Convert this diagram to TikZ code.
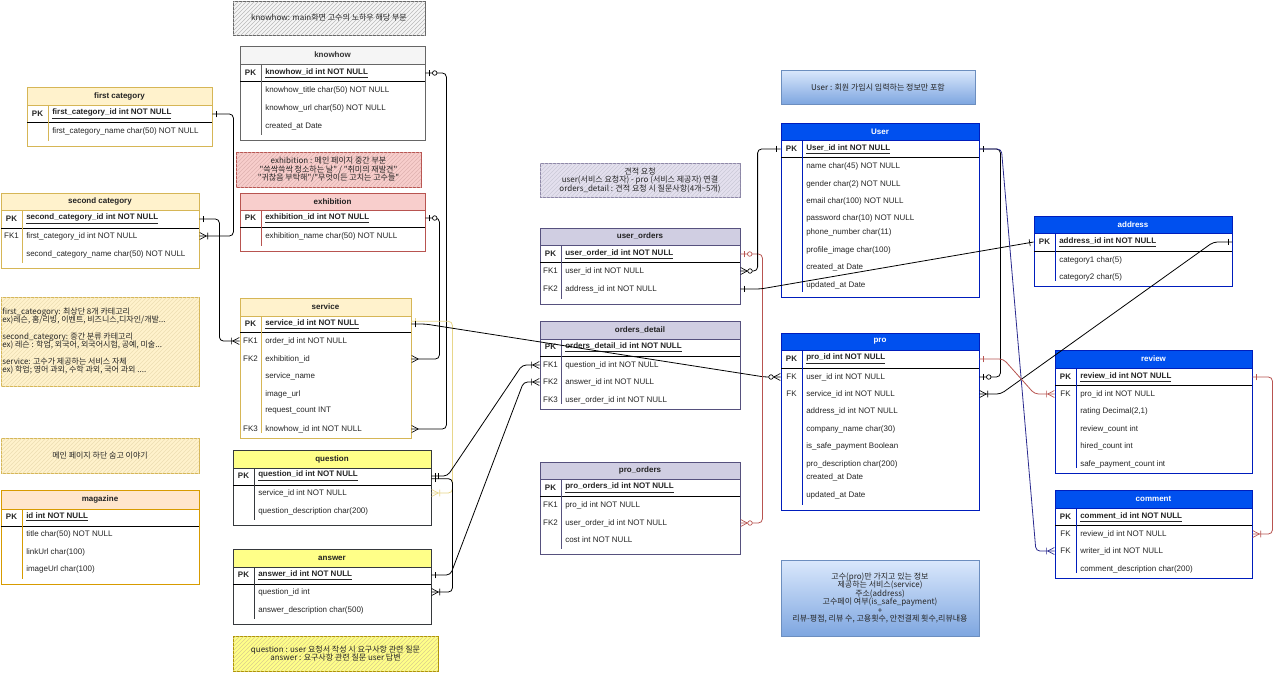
\documentclass[tikz,border=0pt]{standalone}
\usepackage{fontspec}
\setmainfont{Liberation Sans}
\newfontfamily\kr{Noto Sans CJK KR}
\usetikzlibrary{decorations.markings,patterns}

\definecolor{grayF}{HTML}{F5F5F5}\definecolor{grayB}{HTML}{666666}\definecolor{grayT}{HTML}{333333}
\definecolor{yelF}{HTML}{FFF2CC}\definecolor{yelB}{HTML}{D6B656}\definecolor{yelT}{HTML}{222222}
\definecolor{redF}{HTML}{F8CECC}\definecolor{redB}{HTML}{B85450}\definecolor{redT}{HTML}{222222}
\definecolor{oraF}{HTML}{FFE6CC}\definecolor{oraB}{HTML}{D79B00}\definecolor{oraT}{HTML}{222222}
\definecolor{qF}{HTML}{FFFF88}\definecolor{qB}{HTML}{36393D}\definecolor{qT}{HTML}{222222}
\definecolor{qY}{HTML}{B09500}
\definecolor{purF}{HTML}{D0CEE2}\definecolor{purB}{HTML}{56517E}\definecolor{purT}{HTML}{222222}
\definecolor{ordF}{HTML}{E4E0EE}\definecolor{ordB}{HTML}{8C86A6}
\definecolor{bluF}{HTML}{0050EF}\definecolor{bluB}{HTML}{001DBC}\definecolor{bluT}{HTML}{FFFFFF}
\definecolor{bnB}{HTML}{6C8EBF}\definecolor{bnT}{HTML}{DAE8FC}\definecolor{bnD}{HTML}{7EA6E0}
\definecolor{txt}{HTML}{262626}
\definecolor{conred}{HTML}{B85450}
\definecolor{connavy}{HTML}{2B2B8F}
\definecolor{conyel}{HTML}{E8D68A}

\tikzset{
  hdr/.style={font=\bfseries\fontsize{6}{7}\selectfont, inner sep=0pt},
  keyt/.style={font=\fontsize{6}{7}\selectfont, text=txt, inner sep=0pt},
  fldt/.style={font=\fontsize{6}{7}\selectfont, text=txt, inner sep=0pt, anchor=west},
  notetxt/.style={font={\kr\fontsize{6}{6.4}\selectfont\lineskiplimit=-5pt}, text=txt, inner sep=0pt, align=center},
  hnote/.style 2 args={draw=#2, fill=#1, line width=0.6pt, postaction={pattern=north east lines, pattern color=#2!45}},
  bnote/.style={draw=bnB, top color=bnT, bottom color=bnD, line width=0.6pt},
  con/.style={line width=0.6pt, rounded corners=3pt, color=black},
  mkbar/.style={line width=0.5pt, rounded corners=0pt},
  sOne/.style={postaction={decorate,decoration={markings,
     mark=at position 3pt with {\draw[mkbar] (0pt,-2.6pt)--(0pt,2.6pt);}}}},
  sMand/.style={postaction={decorate,decoration={markings,
     mark=at position 3pt with {\draw[mkbar] (0pt,-2.6pt)--(0pt,2.6pt);},
     mark=at position 5.5pt with {\draw[mkbar] (0pt,-2.6pt)--(0pt,2.6pt);}}}},
  sZeroOne/.style={postaction={decorate,decoration={markings,
     mark=at position 3pt with {\draw[mkbar] (0pt,-2.6pt)--(0pt,2.6pt);},
     mark=at position 7pt with {\draw[mkbar,fill=white] (0pt,0pt) circle (1.7pt);}}}},
  eOne/.style={postaction={decorate,decoration={markings,
     mark=at position -3pt with {\draw[mkbar] (0pt,-2.6pt)--(0pt,2.6pt);}}}},
  eMany/.style={postaction={decorate,decoration={markings,
     mark=at position -0.2pt with {\draw[mkbar] (-5pt,0pt)--(0pt,2.6pt) (-5pt,0pt)--(0pt,-2.6pt);}}}},
  eOneMany/.style={postaction={decorate,decoration={markings,
     mark=at position -0.2pt with {\draw[mkbar] (-5pt,0pt)--(0pt,2.6pt) (-5pt,0pt)--(0pt,-2.6pt) (-6pt,-2.6pt)--(-6pt,2.6pt);}}}},
  eZeroMany/.style={postaction={decorate,decoration={markings,
     mark=at position -0.2pt with {\draw[mkbar] (-5pt,0pt)--(0pt,2.6pt) (-5pt,0pt)--(0pt,-2.6pt);
        \draw[mkbar,fill=white] (-7pt,0pt) circle (1.7pt);}}}},
  eZeroOne/.style={postaction={decorate,decoration={markings,
     mark=at position -3pt with {\draw[mkbar] (0pt,-2.6pt)--(0pt,2.6pt);},
     mark=at position -7pt with {\draw[mkbar,fill=white] (0pt,0pt) circle (1.7pt);}}}},
}

% table frame: #1 name #2 theme #3 x1 #4 y1 #5 x2 #6 y2 #7 header bottom #8 pk line #9 title
\newcommand\ertbl[9]{%
  \node[draw=#2B, fill=white, line width=0.6pt, inner sep=0pt,
        minimum width={(#5-#3)*0.75pt}, minimum height={(#6-#4)*0.75pt}]
        (#1) at ({(#3+#5)/2},{(#4+#6)/2}) {};
  \fill[#2F] (#3,#4) rectangle (#5,#7);
  \draw[#2B, line width=0.6pt] (#3,#4) rectangle (#5,#6);
  \draw[#2B, line width=0.5pt] (#3,#7) -- (#5,#7);
  \draw[black, line width=0.6pt] (#3,#8) -- (#5,#8);
  \draw[#2B, line width=0.5pt] (#3+21,#7) -- (#3+21,#6-5);
  \node[hdr, text=#2T] at ({(#3+#5)/2},{(#4+#7)/2}) {#9};
}
% row: #1 name #2 table x1 #3 y #4 key #5 text
\newcommand\erow[5]{%
  \node[keyt] at (#2+10.5,#3) {#4};
  \node[fldt] (#1) at (#2+25,#3) {#5};
}
\newcommand\pkf[1]{\textbf{\underline{#1}}}
% note: #1 name #2 style #3 x1 #4 y1 #5 x2 #6 y2 #7 text
\newcommand\notebox[7]{%
  \node[#2, inner sep=0pt, minimum width={(#5-#3)*0.75pt}, minimum height={(#6-#4)*0.75pt}]
     (#1) at ({(#3+#5)/2},{(#4+#6)/2}) {};
  \node[notetxt] at (#1) {#7};
}

\begin{document}
\begin{tikzpicture}[x=0.75pt,y=-0.75pt]
\fill[white] (0,0) rectangle (1280,672);
\useasboundingbox (0,0) rectangle (1280,672);

% ---------- notes ----------
\notebox{nkh}{hnote={grayF}{grayB}}{233}{1}{425}{35}{knowhow: main화면 고수의 노하우 해당 부분}
\notebox{nex}{hnote={redF}{redB}}{236}{152}{421}{187}{exhibition : 메인 페이지 중간 부분\\"쓱싹쓱싹 청소하는 날" / "취미의 재발견"\\"귀찮음 부탁해"/"무엇이든 고치는 고수들"}
\notebox{ncat}{hnote={yelF}{yelB}}{1}{297}{199}{386}{}
\node[notetxt,anchor=west,align=left] (ncat1) at (2,316) {first\_cateogory: 최상단 8개 카테고리\\ex)레슨, 홈/리빙, 이벤트, 비즈니스,디자인/개발...};
\node[notetxt,anchor=west,align=left] (ncat2) at (2,341) {second\_category: 중간 분류 카테고리\\ex) 레슨 : 학업, 외국어, 외국어시험, 공예, 미술...};
\node[notetxt,anchor=west,align=left] (ncat3) at (2,366) {service: 고수가 제공하는 서비스 자체\\ex) 학업; 영어 과외, 수학 과외, 국어 과외 ....};
\notebox{nst}{hnote={yelF}{yelB}}{1}{438}{199}{473}{메인 페이지 하단 숨고 이야기}
\notebox{nqa}{hnote={qF}{qY}}{233}{636}{438}{671}{question : user 요청서 작성 시 요구사항 관련 질문\\answer : 요구사항 관련 질문 user 답변}
\notebox{nor}{hnote={ordF}{ordB}}{540}{163}{740}{197}{견적 요청\\user(서비스 요청자) - pro (서비스 제공자) 연결\\orders\_detail : 견적 요청 시 질문사항(4개\textasciitilde5개)}
\notebox{nus}{bnote}{781}{70}{975}{104}{User : 회원 가입시 입력하는 정보만 포함}
\notebox{npr}{bnote}{781}{560}{979}{636}{고수(pro)만 가지고 있는 정보\\제공하는 서비스(service)\\주소(address)\\고수페이 여부(is\_safe\_payment)\\+\\리뷰-평점, 리뷰 수, 고용횟수, 안전결제 횟수,리뷰내용}

% ---------- tables ----------
\ertbl{kh}{gray}{240}{46}{425}{140}{64}{81}{knowhow}
\erow{kh-pk}{240}{73}{\textbf{PK}}{\pkf{knowhow\_id int NOT NULL}}
\erow{kh-r1}{240}{90}{}{knowhow\_title char(50) NOT NULL}
\erow{kh-r2}{240}{108}{}{knowhow\_url char(50) NOT NULL}
\erow{kh-r3}{240}{126}{}{created\_at Date}

\ertbl{fc}{yel}{27}{87}{212}{146}{105}{122}{first category}
\erow{fc-pk}{27}{114}{\textbf{PK}}{\pkf{first\_category\_id int NOT NULL}}
\erow{fc-r1}{27}{131}{}{first\_category\_name char(50) NOT NULL}

\ertbl{ex}{red}{240}{193}{425}{251}{210}{227}{exhibition}
\erow{ex-pk}{240}{218}{\textbf{PK}}{\pkf{exhibition\_id int NOT NULL}}
\erow{ex-r1}{240}{236}{}{exhibition\_name char(50) NOT NULL}

\ertbl{sc}{yel}{1}{193}{199}{268}{210}{228}{second category}
\erow{sc-pk}{1}{219}{\textbf{PK}}{\pkf{second\_category\_id int NOT NULL}}
\erow{sc-fk1}{1}{236}{FK1}{first\_category\_id int NOT NULL}
\erow{sc-r2}{1}{254}{}{second\_category\_name char(50) NOT NULL}

\ertbl{sv}{yel}{240}{298}{411}{438}{316}{332}{service}
\erow{sv-pk}{240}{324}{\textbf{PK}}{\pkf{service\_id int NOT NULL}}
\erow{sv-fk1}{240}{341}{FK1}{order\_id int NOT NULL}
\erow{sv-fk2}{240}{359}{FK2}{exhibition\_id}
\erow{sv-r3}{240}{376}{}{service\_name}
\erow{sv-r4}{240}{394}{}{image\_url}
\erow{sv-r5}{240}{411}{}{request\_count INT}
\erow{sv-fk3}{240}{429}{FK3}{knowhow\_id int NOT NULL}

\ertbl{mg}{ora}{1}{490}{199}{584}{509}{526}{magazine}
\erow{mg-pk}{1}{517}{\textbf{PK}}{\pkf{id int NOT NULL}}
\erow{mg-r1}{1}{534}{}{title char(50) NOT NULL}
\erow{mg-r2}{1}{552}{}{linkUrl char(100)}
\erow{mg-r3}{1}{569}{}{imageUrl char(100)}

\ertbl{qs}{q}{233}{450}{431}{525}{468}{485}{question}
\erow{qs-pk}{233}{476}{\textbf{PK}}{\pkf{question\_id int NOT NULL}}
\erow{qs-r1}{233}{493}{}{service\_id int NOT NULL}
\erow{qs-r2}{233}{511}{}{question\_description char(200)}

\ertbl{an}{q}{233}{549}{431}{624}{567}{584}{answer}
\erow{an-pk}{233}{575}{\textbf{PK}}{\pkf{answer\_id int NOT NULL}}
\erow{an-r1}{233}{592}{}{question\_id int}
\erow{an-r2}{233}{610}{}{answer\_description char(500)}

\ertbl{uo}{pur}{540}{228}{740}{304}{245}{262}{user\_orders}
\erow{uo-pk}{540}{254}{\textbf{PK}}{\pkf{user\_order\_id int NOT NULL}}
\erow{uo-fk1}{540}{271}{FK1}{user\_id int NOT NULL}
\erow{uo-fk2}{540}{289}{FK2}{address\_id int NOT NULL}

\ertbl{od}{pur}{540}{321}{740}{409}{339}{356}{orders\_detail}
\erow{od-pk}{540}{347}{\textbf{PK}}{\pkf{orders\_detail\_id int NOT NULL}}
\erow{od-fk1}{540}{365}{FK1}{question\_id int NOT NULL}
\erow{od-fk2}{540}{382}{FK2}{answer\_id int NOT NULL}
\erow{od-fk3}{540}{400}{FK3}{user\_order\_id int NOT NULL}

\ertbl{po}{pur}{540}{462}{740}{554}{479}{496}{pro\_orders}
\erow{po-pk}{540}{488}{\textbf{PK}}{\pkf{pro\_orders\_id int NOT NULL}}
\erow{po-fk1}{540}{505}{FK1}{pro\_id int NOT NULL}
\erow{po-fk2}{540}{523}{FK2}{user\_order\_id int NOT NULL}
\erow{po-r3}{540}{540}{}{cost int NOT NULL}

\ertbl{us}{blu}{781}{123}{979}{297}{140}{157}{User}
\erow{us-pk}{781}{149}{\textbf{PK}}{\pkf{User\_id int NOT NULL}}
\erow{us-r1}{781}{166}{}{name char(45) NOT NULL}
\erow{us-r2}{781}{184}{}{gender char(2) NOT NULL}
\erow{us-r3}{781}{201}{}{email char(100) NOT NULL}
\erow{us-r4}{781}{218}{}{password char(10) NOT NULL}
\erow{us-r5}{781}{232}{}{phone\_number char(11)}
\erow{us-r6}{781}{250}{}{profile\_image char(100)}
\erow{us-r7}{781}{267}{}{created\_at Date}
\erow{us-r8}{781}{285}{}{updated\_at Date}

\ertbl{ad}{blu}{1034}{216}{1232}{286}{233}{251}{address}
\erow{ad-pk}{1034}{242}{\textbf{PK}}{\pkf{address\_id int NOT NULL}}
\erow{ad-r1}{1034}{260}{}{category1 char(5)}
\erow{ad-r2}{1034}{277}{}{category2 char(5)}

\ertbl{pr}{blu}{781}{333}{979}{510}{350}{368}{pro}
\erow{pr-pk}{781}{359}{\textbf{PK}}{\pkf{pro\_id int NOT NULL}}
\erow{pr-fk1}{781}{377}{FK}{user\_id int NOT NULL}
\erow{pr-fk2}{781}{394}{FK}{service\_id int NOT NULL}
\erow{pr-r3}{781}{411}{}{address\_id int NOT NULL}
\erow{pr-r4}{781}{429}{}{company\_name char(30)}
\erow{pr-r5}{781}{446}{}{is\_safe\_payment Boolean}
\erow{pr-r6}{781}{464}{}{pro\_description char(200)}
\erow{pr-r7}{781}{477}{}{created\_at Date}
\erow{pr-r8}{781}{495}{}{updated\_at Date}

\ertbl{rv}{blu}{1055}{350}{1252}{473}{368}{385}{review}
\erow{rv-pk}{1055}{377}{\textbf{PK}}{\pkf{review\_id int NOT NULL}}
\erow{rv-fk1}{1055}{394}{FK}{pro\_id int NOT NULL}
\erow{rv-r2}{1055}{411}{}{rating Decimal(2,1)}
\erow{rv-r3}{1055}{429}{}{review\_count int}
\erow{rv-r4}{1055}{446}{}{hired\_count int}
\erow{rv-r5}{1055}{464}{}{safe\_payment\_count int}

\ertbl{cm}{blu}{1055}{490}{1252}{578}{508}{525}{comment}
\erow{cm-pk}{1055}{517}{\textbf{PK}}{\pkf{comment\_id int NOT NULL}}
\erow{cm-fk1}{1055}{534}{FK}{review\_id int NOT NULL}
\erow{cm-fk2}{1055}{551}{FK}{writer\_id int NOT NULL}
\erow{cm-r3}{1055}{569}{}{comment\_description char(200)}

% ---------- connectors ----------
\draw[con,sZeroOne,eMany] (kh.east |- kh-pk) -- ++(21,0) |- (sv.east |- sv-fk3);
\draw[con,sZeroOne,eMany] (ex.east |- ex-pk) -- ++(14,0) |- (sv.east |- sv-fk2);
\draw[con,sOne,eOneMany] (fc.east |- fc-pk) -- ++(21,0) |- (sc.east |- sc-fk1);
\draw[con,sOne,eOneMany] (sc.east |- sc-pk) -- ++(20,0) |- (sv.west |- sv-fk1);
\draw[con,color=conyel,sOne,eOneMany] ([yshift=2pt]sv.east |- sv-pk) -- ++(41,0) |- (qs.east |- qs-r1);
\draw[con,sOne,eZeroMany] (sv.east |- sv-pk) -- ++(14,0) -- ([xshift=-12pt]pr.west |- pr-fk1) -- (pr.west |- pr-fk1);
\draw[con,sMand,eOneMany] (qs.east |- qs-pk) -- ++(16,0) -- ([xshift=-13pt]od.west |- od-fk1) -- (od.west |- od-fk1);
\draw[con,sOne,eOneMany] ([yshift=-2pt]qs.east |- qs-pk) -- ++(21,0) |- (an.east |- an-r1);
\draw[con,sOne,eOneMany] (an.east |- an-pk) -- ++(19,0) -- ([xshift=-12pt]od.west |- od-fk2) -- (od.west |- od-fk2);
\draw[con,color=conred,sZeroOne,eZeroMany] (uo.east |- uo-pk) -- ++(22,0) |- (po.east |- po-fk2);
\draw[con,sOne,eZeroMany] (us.west |- us-pk) -- ++(-23,0) |- (uo.east |- uo-fk1);
\draw[con,sOne,eOne] (ad.west |- ad-pk) -- ([xshift=15pt]uo.east |- uo-fk2) -- (uo.east |- uo-fk2);
\draw[con,sOne,eOneMany] (ad.east |- ad-pk) -- ++(-19,0) -- ([xshift=16pt]pr.east |- pr-fk2) -- (pr.east |- pr-fk2);
\draw[con,sOne,eZeroOne] (us.east |- us-pk) -- ++(21,0) |- (pr.east |- pr-fk1);
\draw[con,color=connavy,eOneMany] (us.east |- us-pk) -- ++(22,0) -- ([xshift=-14pt]cm.west |- cm-fk2) -- (cm.west |- cm-fk2);
\draw[con,color=conred,sOne,eOneMany] (pr.east |- pr-pk) -- ++(24,0) -- ([xshift=-15pt]rv.west |- rv-fk1) -- (rv.west |- rv-fk1);
\draw[con,color=conred,sOne,eOneMany] (rv.east |- rv-pk) -- ++(20,0) |- (cm.east |- cm-fk1);
\end{tikzpicture}
\end{document}
